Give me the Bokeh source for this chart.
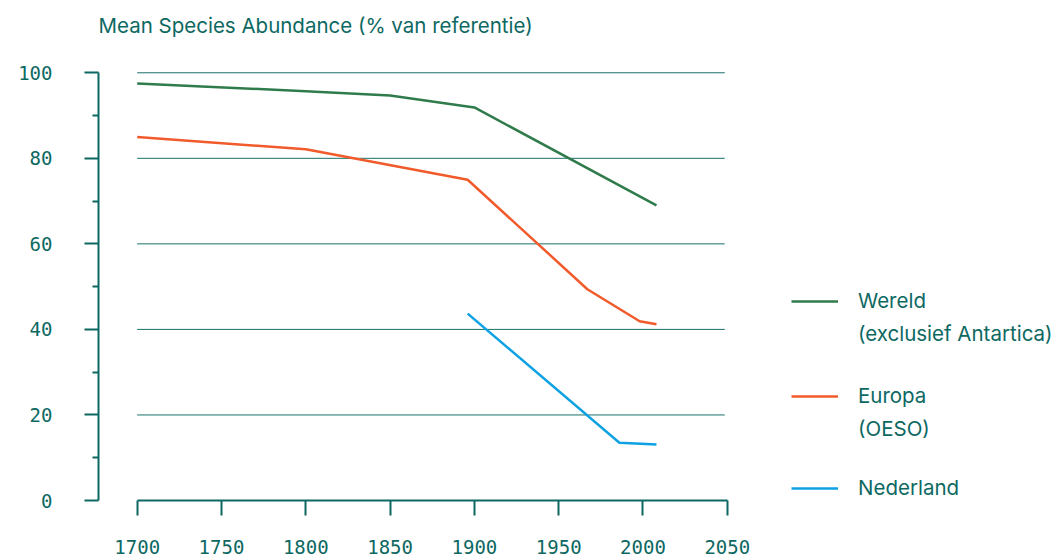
from bokeh.plotting import figure
from bokeh.models import Range1d, Legend, LegendItem, FixedTicker, Title
from bokeh.embed import file_html
from bokeh.resources import INLINE

# ---- data ----
wereld_years = [1700, 1800, 1850, 1900, 2008]
wereld_msa = [97.5, 95.7, 94.7, 91.9, 69.0]

europa_years = [1700, 1800, 1896, 1967, 1998, 2008]
europa_msa = [85.0, 82.1, 75.0, 49.4, 41.9, 41.2]

nederland_years = [1896, 1986, 2008]
nederland_msa = [43.7, 13.5, 13.1]

x_ticks = [1700, 1750, 1800, 1850, 1900, 1950, 2000, 2050]
y_ticks = [0, 20, 40, 60, 80, 100]
y_minor = [10, 30, 50, 70, 90]

series_names = ["Wereld", "Europa", "Nederland"]
series_notes = ["(exclusief Antartica)", "(OESO)", None]
title_text = "Mean Species Abundance (% van referentie)"

TEAL = "#0d6862"
GREEN = "#2f7b4b"
ORANGE = "#f15a2a"
BLUE = "#0ea2e2"
FONT = "Inter"

p = figure(frame_width=956, frame_height=432,
           x_range=Range1d(1677.05, 2244.07), y_range=Range1d(0, 101),
           output_backend="svg", toolbar_location=None,
           min_border_left=98, min_border_right=0, min_border_top=68,
           min_border_bottom=50)
p.outline_line_color = None
p.background_fill_color = None
p.border_fill_color = None
p.xgrid.visible = False
p.ygrid.visible = False

# spacer between frame and title (keeps the title high above the frame)
p.add_layout(Title(text=" ", text_font_size="1px", standoff=28), "above")

p.title.text = title_text
p.title.text_font = FONT
p.title.text_font_size = "20.5px"
p.title.text_font_style = "normal"
p.title.text_color = TEAL
p.title.standoff = 0

# gridlines as segments from the tick values (from 1700 to just before 2050)
gx0 = [x_ticks[0]] * (len(y_ticks) - 1)
gx1 = [x_ticks[-1] - 1.5] * (len(y_ticks) - 1)
p.segment(x0=gx0, x1=gx1, y0=y_ticks[1:], y1=y_ticks[1:],
          line_color=TEAL, line_width=1, line_alpha=0.95)

r1 = p.line(wereld_years, wereld_msa, line_color=GREEN, line_width=2.5)
r2 = p.line(europa_years, europa_msa, line_color=ORANGE, line_width=2.5)
r3 = p.line(nederland_years, nederland_msa, line_color=BLUE, line_width=2.5)
blank = p.line(x=[], y=[], line_alpha=0)

# axes
xa = p.xaxis[0]
xa.bounds = (x_ticks[0], x_ticks[-1])
xa.ticker = FixedTicker(ticks=x_ticks)
xa.axis_line_color = TEAL
xa.axis_line_width = 2
xa.major_tick_line_color = TEAL
xa.major_tick_line_width = 2
xa.major_tick_out = 15
xa.major_tick_in = 0
xa.minor_tick_line_color = None
xa.major_label_standoff = 24
xa.major_label_text_font = "DejaVu Sans Mono"
xa.major_label_text_font_size = "19px"
xa.major_label_text_color = TEAL

ya = p.yaxis[0]
ya.bounds = (y_ticks[0], y_ticks[-1])
ya.ticker = FixedTicker(ticks=y_ticks, minor_ticks=y_minor)
ya.axis_line_color = TEAL
ya.axis_line_width = 2
ya.major_tick_line_color = TEAL
ya.major_tick_line_width = 2
ya.major_tick_out = 14
ya.major_tick_in = 0
ya.minor_tick_line_color = TEAL
ya.minor_tick_line_width = 2
ya.minor_tick_out = 6
ya.minor_tick_in = 0
ya.major_label_standoff = 32
ya.major_label_text_font = "DejaVu Sans Mono"
ya.major_label_text_font_size = "19px"
ya.major_label_text_color = TEAL

renderers = [r1, r2, r3]
locations = [(693, 154), (693, 59), (693, 0)]
for name, note, rend, loc in zip(series_names, series_notes, renderers, locations):
    items = [LegendItem(label=name, renderers=[rend])]
    if note:
        items.append(LegendItem(label=note, renderers=[blank]))
    lg = Legend(items=items, location=loc)
    lg.padding = 0
    lg.margin = 0
    lg.border_line_color = None
    lg.background_fill_alpha = 0
    lg.glyph_width = 47
    lg.glyph_height = 24
    lg.label_height = 24
    lg.label_standoff = 20
    lg.spacing = 8
    lg.label_text_font = FONT
    lg.label_text_font_size = "20.5px"
    lg.label_text_color = TEAL
    p.add_layout(lg)

open("out.html", "w").write(file_html(p, INLINE))
